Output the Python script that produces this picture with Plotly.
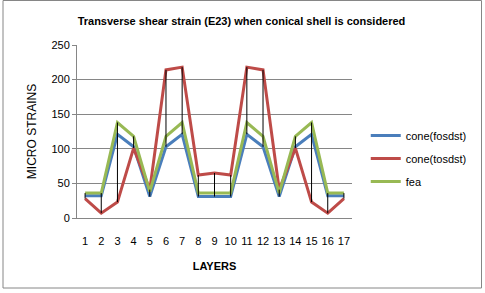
import plotly.graph_objects as go

layers = list(range(1, 18))
cone_fosdst = [32, 32, 121, 103, 31, 103, 121, 31, 31, 31, 121, 103, 31, 103, 121, 32, 32]
cone_tosdst = [28, 7, 23, 101, 41, 214, 218, 62, 65, 62, 218, 214, 41, 101, 23, 7, 28]
fea = [36, 36, 138, 118, 38, 118, 138, 36, 36, 36, 138, 118, 36, 118, 138, 36, 36]

FONT = "Liberation Sans"

fig = go.Figure()
series = [("cone(fosdst)", cone_fosdst, "#4A7EBB"),
          ("cone(tosdst)", cone_tosdst, "#BE4B48"),
          ("fea", fea, "#98B954")]
for i, (name, vals, col) in enumerate(series):
    fig.add_trace(go.Scatter(x=layers, y=vals, mode="lines", name=name,
                             line=dict(color=col, width=3), legendgroup=str(i)))

# high-low lines
hx, hy = [], []
for i, x in enumerate(layers):
    vs = [cone_fosdst[i], cone_tosdst[i], fea[i]]
    hx += [x, x, None]
    hy += [min(vs), max(vs), None]
fig.add_trace(go.Scatter(x=hx, y=hy, mode="lines", line=dict(color="black", width=1),
                         showlegend=False, hoverinfo="skip"))

fig.update_layout(
    width=485, height=293,
    margin=dict(l=77, r=133, t=45, b=75, autoexpand=False),
    paper_bgcolor="white", plot_bgcolor="white",
    font=dict(family=FONT, size=11, color="black"),
    title=dict(text="<b>Transverse shear strain (E23) when conical shell is considered</b>",
               x=241.5/485, xanchor="center", y=1 - 21/293, yanchor="middle",
               font=dict(family=FONT, size=11, color="black")),
    legend=dict(x=1.05, y=0.56, xanchor="left", yanchor="top",
                font=dict(family=FONT, size=11), tracegroupgap=4,
                bgcolor="rgba(0,0,0,0)"),
    showlegend=True,
)
fig.update_xaxes(range=[0.5, 17.5], tickmode="array", tickvals=layers,
                 ticktext=[str(v) for v in layers], showgrid=False, automargin=False,
                 showline=True, linecolor="#868686", linewidth=1, ticks="",
                 ticklabelstandoff=13,
                 title=dict(text="<b>LAYERS</b>", font=dict(family=FONT, size=11), standoff=16))
fig.update_yaxes(range=[0, 250], dtick=50, showgrid=True, gridcolor="#868686", gridwidth=1,
                 showline=True, linecolor="#868686", linewidth=1, ticks="outside",
                 ticklen=4, tickcolor="#868686", zeroline=False, automargin=False,
                 title=dict(text="MICRO STRAINS", font=dict(family=FONT, size=12), standoff=12))

# outer chart border
fig.add_shape(type="rect", xref="paper", yref="paper",
              x0=(3 - 77) / 275, x1=(481.5 - 77) / 275,
              y0=(218 - 288) / 173, y1=(218 - 0.5) / 173,
              line=dict(color="#868686", width=1), fillcolor="rgba(0,0,0,0)", layer="below")

fig.write_html("out.html", config={"displayModeBar": False},
               post_script="document.body.style.margin='0';document.body.style.overflow='hidden';")
